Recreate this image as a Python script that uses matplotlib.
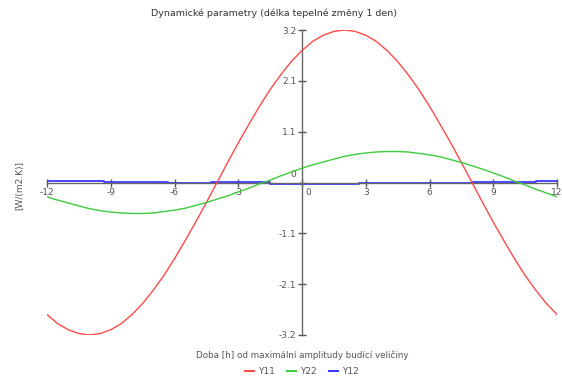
import matplotlib
matplotlib.use("Agg")
import matplotlib.pyplot as plt
import matplotlib.transforms as mtransforms

# Time [h]
t = [-12, -11.5, -11, -10.5, -10, -9.5, -9, -8.5, -8, -7.5, -7, -6.5, -6, -5.5, -5, -4.5,
     -4, -3.5, -3, -2.5, -2, -1.5, -1, -0.5, 0, 0.5, 1, 1.5, 2, 2.5, 3, 3.5, 4, 4.5,
     5, 5.5, 6, 6.5, 7, 7.5, 8, 8.5, 9, 9.5, 10, 10.5, 11, 11.5, 12]

Y11 = [-2.77, -2.96, -3.09, -3.17, -3.20, -3.17, -3.09, -2.96, -2.77, -2.54, -2.26, -1.95,
       -1.60, -1.22, -0.83, -0.42, 0.00, 0.42, 0.83, 1.22, 1.60, 1.95, 2.26, 2.54, 2.77,
       2.96, 3.09, 3.17, 3.20, 3.17, 3.09, 2.96, 2.77, 2.54, 2.26, 1.95, 1.60, 1.22, 0.83,
       0.42, 0.00, -0.42, -0.83, -1.22, -1.60, -1.95, -2.26, -2.54, -2.77]

Y22 = [-0.30, -0.37, -0.43, -0.49, -0.55, -0.59, -0.62, -0.64, -0.65, -0.65, -0.64, -0.61,
       -0.58, -0.54, -0.48, -0.42, -0.35, -0.28, -0.20, -0.12, -0.03, 0.05, 0.14, 0.22,
       0.30, 0.37, 0.43, 0.49, 0.55, 0.59, 0.62, 0.64, 0.65, 0.65, 0.64, 0.61, 0.58, 0.54,
       0.48, 0.42, 0.35, 0.28, 0.20, 0.12, 0.03, -0.05, -0.14, -0.22, -0.30]

t12 = [-12, -9.3, -6.3, -4.3, -1.5, 2.7, 5.7, 8.0, 11.0, 12]
Y12 = [0.03, 0.01, 0.0, 0.01, -0.03, -0.01, 0.0, 0.01, 0.03, 0.03]

xticks = [-12, -9, -6, -3, 0, 3, 6, 9, 12]
yticks = [-3.2, -3.2 * 2 / 3, -3.2 / 3, 0, 3.2 / 3, 3.2 * 2 / 3, 3.2]
ytick_labels = ["-3.2", "-2.1", "-1.1", "0", "1.1", "2.1", "3.2"]

title = "Dynamické parametry (délka tepelné změny 1 den)"
xlabel = "Doba [h] od maximální amplitudy budící veličiny"
ylabel = "[W/(m2.K)]"

fig = plt.figure(figsize=(5.62, 3.78), dpi=100)
ax = fig.add_axes([47 / 562, 1 - 335 / 378, 510 / 562, 305 / 378])

red = "#ff4a4a"
green = "#3ecb3e"
blue = "#3a3aff"

ax.plot(t, Y11, color=red, lw=1.0, label="Y11", zorder=3)
ax.plot(t, Y22, color=green, lw=1.0, label="Y22", zorder=3)
ax.plot(t12, Y12, color=blue, lw=1.3, drawstyle="steps-post", label="Y12", zorder=2)

ax.set_xlim(-12, 12)
ax.set_ylim(-3.2, 3.2)

for s in ["top", "right"]:
    ax.spines[s].set_visible(False)
ax.spines["left"].set_position(("data", 0))
ax.spines["bottom"].set_position(("data", 0))
for s in ["left", "bottom"]:
    ax.spines[s].set_color("#666666")
    ax.spines[s].set_linewidth(1.0)
    ax.spines[s].set_zorder(2.5)

ax.set_xticks(xticks)
ax.set_xticklabels([str(v) for v in xticks])
ax.set_yticks(yticks)
ax.set_yticklabels(ytick_labels)
ax.tick_params(axis="both", direction="inout", length=6, width=1, color="#555555",
               labelsize=6.5, labelcolor="#555555", pad=1)

xl = ax.get_xticklabels()
xl[4].set_horizontalalignment("left")
xl[4].set_transform(xl[4].get_transform() + mtransforms.ScaledTranslation(3 / 100, 0, fig.dpi_scale_trans))
yl = ax.get_yticklabels()
yl[3].set_transform(yl[3].get_transform() + mtransforms.ScaledTranslation(0, 9 / 100, fig.dpi_scale_trans))

fig.text(274 / 562, 1 - 13 / 378, title, ha="center", va="center", fontsize=6.8, color="#333333")
fig.text(302 / 562, 1 - 355 / 378, xlabel, ha="center", va="center", fontsize=6.35, color="#555555")
fig.text(20 / 562, 1 - 185 / 378, ylabel, ha="center", va="center", rotation=90,
         fontsize=6.5, color="#555555")

leg = fig.legend(loc="center", bbox_to_anchor=(302 / 562, 1 - 372 / 378), ncol=3, frameon=False,
                 fontsize=6.5, handlelength=1.0, handletextpad=0.5, columnspacing=1.3)
for txt in leg.get_texts():
    txt.set_color("#555555")
for h in leg.legend_handles:
    h.set_linewidth(1.5)

fig.savefig("out.png", dpi=100)
